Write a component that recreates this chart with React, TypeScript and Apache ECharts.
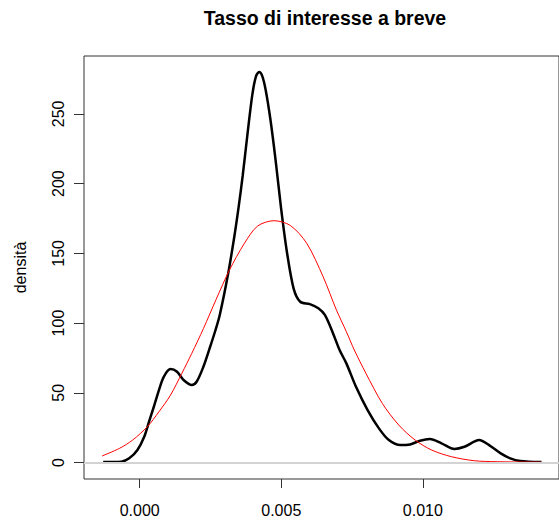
import { useEffect, useRef } from "react";
import * as echarts from "echarts";

// Kernel density estimate of the short-term interest rate
const densityX = [
  -0.00129, -0.00065, -0.00037, -0.00008, 0.00016, 0.00033, 0.0005, 0.00068,
  0.00085, 0.00109, 0.00132, 0.00155, 0.00184, 0.00201, 0.00225, 0.00248,
  0.00267, 0.00283, 0.00312, 0.00335, 0.0035, 0.00364, 0.00381, 0.00398,
  0.00411, 0.00422, 0.00433, 0.00445, 0.00462, 0.0048, 0.00499,
  0.0052, 0.00544, 0.00567, 0.00601, 0.00631, 0.00654, 0.00683, 0.00706,
  0.0073, 0.00764, 0.00805, 0.00845, 0.0088, 0.00921, 0.00955, 0.0099,
  0.01025, 0.01066, 0.01112, 0.01147, 0.01199, 0.01234, 0.01275, 0.01309,
  0.01344, 0.01419,
];
const densityY = [
  0.3, 0.6, 3.0, 9.0, 18.5, 29.3, 40.0, 52.0,
  61.5, 67.0, 65.1, 59.2, 55.6, 57.9, 68.7, 82.5,
  94.5, 106.0, 135.0, 163.0, 184.0, 206.0, 236.0, 264.0,
  277.0, 280.0, 277.1, 267.1, 245.6, 216.9, 183.0,
  151.0, 124.5, 115.3, 113.6, 110.6, 105.8, 92.6, 80.7,
  71.1, 54.3, 37.6, 24.5, 16.1, 12.5, 13.0, 15.6,
  16.8, 13.8, 9.7, 11.3, 16.1, 12.5, 6.6, 3.0,
  1.1, 0.3,
];

// Fitted normal density
const normalX = [
  -0.00133, -0.00071, -0.00025, 0.00027, 0.00068, 0.00109, 0.00149, 0.00184,
  0.00225, 0.0027, 0.00317, 0.0037, 0.00416, 0.00474, 0.00532, 0.0059,
  0.00648, 0.00695, 0.0073, 0.00758, 0.00799, 0.00857, 0.00915, 0.00973,
  0.01031, 0.01101, 0.01182, 0.01263, 0.01419,
];
const normalY = [
  4.7, 10.2, 16.1, 25.7, 36.4, 48.4, 64.0, 78.3,
  96.0, 117.0, 138.0, 157.2, 169.5, 173.4, 170.0, 157.2,
  133.2, 109.3, 93.8, 80.7, 64.0, 42.4, 26.9, 16.1,
  9.0, 4.2, 1.3, 0.6, 0.3,
];

const xTicks = [0, 0.005, 0.01];
const yTicks = [0, 50, 100, 150, 200, 250];

const FONT = "'Liberation Sans', Arial, sans-serif";
const AXIS_COLOR = "#333";

export default function App() {
  const ref = useRef<HTMLDivElement>(null);

  useEffect(() => {
    const chart = echarts.init(ref.current!, null, { renderer: "svg" });
    chart.setOption({
      animation: false,
      backgroundColor: "#fff",
      title: {
        text: "Tasso di interesse a breve",
        left: 325,
        textAlign: "center",
        top: 8,
        padding: 0,
        textStyle: { fontFamily: FONT, fontSize: 19.5, fontWeight: "bold", color: "#000" },
      },
      grid: {
        left: 84,
        right: -7,
        top: 56,
        bottom: 42,
        show: true,
        borderColor: AXIS_COLOR,
        borderWidth: 1,
        backgroundColor: "transparent",
      },
      xAxis: {
        type: "value",
        min: -0.001967,
        max: 0.01481,
        axisLine: { show: false, onZero: false },
        splitLine: { show: false },
        axisTick: {
          show: true,
          customValues: xTicks,
          length: 9,
          lineStyle: { color: AXIS_COLOR, width: 1 },
        },
        axisLabel: {
          customValues: xTicks,
          formatter: (v: number) => v.toFixed(3),
          fontFamily: FONT,
          fontSize: 16,
          color: "#000",
          margin: 23,
        },
      },
      yAxis: {
        type: "value",
        min: -11.8,
        max: 291.5,
        name: "densità",
        nameLocation: "middle",
        nameGap: 56,
        nameRotate: 90,
        nameTextStyle: { fontFamily: FONT, fontSize: 16, color: "#000" },
        axisLine: { show: false, onZero: false },
        splitLine: { show: false },
        axisTick: {
          show: true,
          customValues: yTicks,
          length: 10,
          lineStyle: { color: AXIS_COLOR, width: 1 },
        },
        axisLabel: {
          customValues: yTicks,
          rotate: 90,
          fontFamily: FONT,
          fontSize: 16,
          color: "#000",
          margin: 18,
        },
      },
      series: [
        {
          type: "line",
          data: [],
          z: 1,
          markLine: {
            silent: true,
            symbol: "none",
            label: { show: false },
            lineStyle: { color: "#d3d3d3", width: 2, type: "solid" },
            data: [{ yAxis: 0 }],
          },
        },
        {
          type: "line",
          data: densityX.map((x, i) => [x, densityY[i]]),
          smooth: 0.3,
          showSymbol: false,
          z: 2,
          lineStyle: { color: "#000", width: 2.5 },
        },
        {
          type: "line",
          data: normalX.map((x, i) => [x, normalY[i]]),
          smooth: 0.3,
          showSymbol: false,
          z: 3,
          lineStyle: { color: "#ff0000", width: 1 },
        },
      ],
    });
    return () => chart.dispose();
  }, []);

  return (
    <div
      ref={ref}
      style={{
        position: "fixed",
        left: 0,
        top: 0,
        width: 559,
        height: 521,
        overflow: "hidden",
        background: "#fff",
      }}
    />
  );
}
